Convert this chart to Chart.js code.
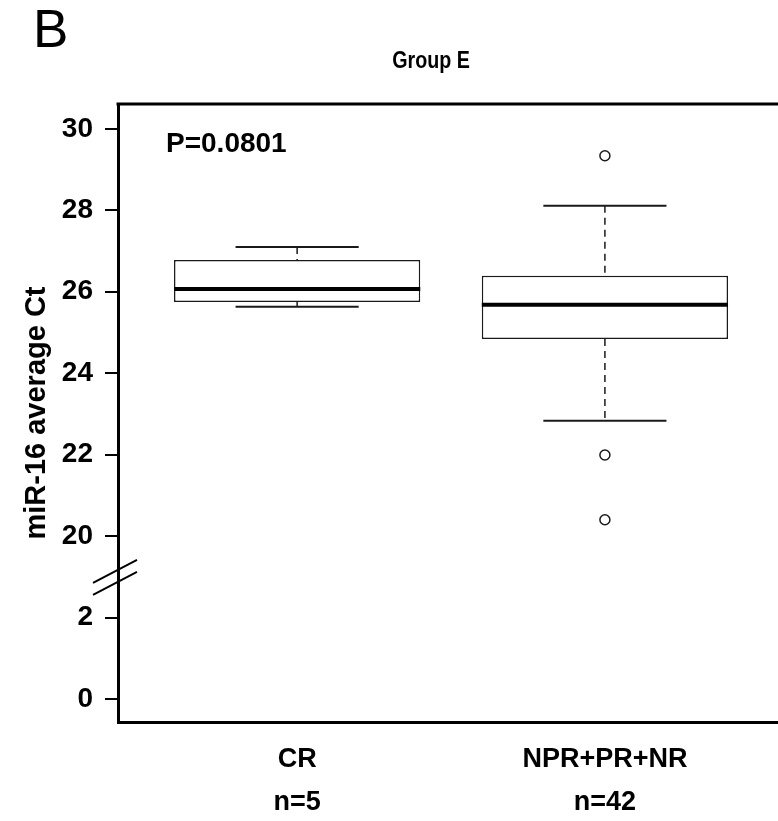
<!DOCTYPE html>
<html>
<head>
<meta charset="utf-8">
<title>Group E</title>
<script src="https://cdn.jsdelivr.net/npm/chart.js@4.4.0/dist/chart.umd.min.js"></script>
<style>
  html, body { margin: 0; padding: 0; background: #fff; overflow: hidden; }
  #chart { display: block; }
</style>
</head>
<body>
<!-- a little wider than the window: the plot frame runs off the right edge, as in the original -->
<canvas id="chart" width="785" height="821"></canvas>
<script>
// miR-16 average Ct, Group E box plot (broken y axis)

const groups = ['CR', 'NPR+PR+NR'];
const groupPos = [1, 2];
const counts = [5, 42];
const whiskerLow = [25.63, 22.83];
const q1 = [25.75, 24.84];
const median = [26.07, 25.68];
const q3 = [26.78, 26.39];
const whiskerHigh = [27.10, 28.11];
const outliers = [[], [29.34, 21.99, 20.40]];
const tickValues = [0, 2, 20, 22, 24, 26, 28, 30];
const titleText = 'Group E';
const panelLetter = 'B';
const pValueText = 'P=0.0801';

// the gap between 2 and 20 is squeezed into one tick step
const breakLow = 2;
const breakHigh = 20;
const breakStep = 2;

function toAxis(v) {
  return v >= breakHigh ? v - breakHigh + breakLow + breakStep : v;
}

const FONT = "'Liberation Sans', Arial, sans-serif";
Chart.defaults.font.family = FONT;
Chart.defaults.color = '#000';

const boxData = groupPos.map((g, i) => ({ x: g, y: [toAxis(q1[i]), toAxis(q3[i])] }));
const outlierData = [];
outliers.forEach((list, i) => {
  list.forEach(v => outlierData.push({ x: groupPos[i], y: toAxis(v) }));
});

function line(ctx, x1, y1, x2, y2) {
  ctx.beginPath();
  ctx.moveTo(x1, y1);
  ctx.lineTo(x2, y2);
  ctx.stroke();
}

// narrow text, drawn squeezed horizontally like the original figure
function narrowText(ctx, text, x, y, font, squeeze, align) {
  ctx.save();
  ctx.translate(x, y);
  ctx.scale(squeeze, 1);
  ctx.font = font;
  ctx.textAlign = align;
  ctx.fillText(text, 0, 0);
  ctx.restore();
}

const boxPlotExtras = {
  id: 'boxPlotExtras',
  afterDatasetsDraw(chart) {
    const ctx = chart.ctx;
    const xs = chart.scales.x;
    const ys = chart.scales.y;
    const boxes = chart.getDatasetMeta(0).data;
    ctx.save();
    ctx.strokeStyle = '#1a1a1a';
    groupPos.forEach((g, i) => {
      const cx = xs.getPixelForValue(g);
      const capL = xs.getPixelForValue(g - 0.2);
      const capR = xs.getPixelForValue(g + 0.2);
      const yHi = ys.getPixelForValue(toAxis(whiskerHigh[i]));
      const yLo = ys.getPixelForValue(toAxis(whiskerLow[i]));
      const yQ3 = ys.getPixelForValue(toAxis(q3[i]));
      const yQ1 = ys.getPixelForValue(toAxis(q1[i]));
      const yMed = ys.getPixelForValue(toAxis(median[i]));

      // dashed whiskers
      ctx.lineWidth = 1.5;
      ctx.setLineDash([7, 5]);
      line(ctx, cx, yHi, cx, yQ3);
      line(ctx, cx, yQ1, cx, yLo);
      ctx.setLineDash([]);

      // whisker caps
      ctx.lineWidth = 2;
      line(ctx, capL, yHi, capR, yHi);
      line(ctx, capL, yLo, capR, yLo);

      // median
      const b = boxes[i];
      ctx.strokeStyle = '#000';
      ctx.lineWidth = 4;
      line(ctx, b.x - b.width / 2, yMed, b.x + b.width / 2, yMed);
      ctx.strokeStyle = '#1a1a1a';
    });
    ctx.restore();
  },
  afterDraw(chart) {
    const ctx = chart.ctx;
    const area = chart.chartArea;
    const ys = chart.scales.y;
    ctx.save();

    // top frame line
    ctx.strokeStyle = '#000';
    ctx.lineWidth = 3;
    line(ctx, area.left - 1.5, area.top, area.right, area.top);

    // axis break marks
    const yb = ys.getPixelForValue(breakLow + breakStep / 2);
    ctx.lineWidth = 2;
    [-6, 6].forEach(off => {
      line(ctx, area.left - 25, yb + off + 12, area.left + 19, yb + off - 11);
    });

    ctx.fillStyle = '#000';
    ctx.textBaseline = 'middle';
    narrowText(ctx, panelLetter, 33, 32, '53px ' + FONT, 1, 'left');
    narrowText(ctx, titleText, 431, 61, 'bold 24px ' + FONT, 0.82, 'center');

    // p value
    ctx.textBaseline = 'alphabetic';
    ctx.textAlign = 'left';
    ctx.font = 'bold 28px ' + FONT;
    ctx.fillText(pValueText, area.left + 48, area.top + 48);
    ctx.restore();
  }
};

new Chart(document.getElementById('chart'), {
  type: 'bar',
  data: {
    datasets: [
      {
        type: 'bar',
        label: 'box',
        data: boxData,
        backgroundColor: '#ffffff',
        borderColor: '#1a1a1a',
        borderWidth: 1.5,
        borderSkipped: false,
        barPercentage: 0.8,
        categoryPercentage: 1.0
      },
      {
        type: 'scatter',
        label: 'outliers',
        data: outlierData,
        pointRadius: 5,
        pointBorderWidth: 1.5,
        pointBackgroundColor: '#ffffff',
        pointBorderColor: '#1a1a1a',
        showLine: false
      }
    ]
  },
  options: {
    responsive: false,
    animation: false,
    devicePixelRatio: 1,
    layout: { padding: { top: 104, left: 0, right: 0, bottom: 0 } },
    plugins: {
      legend: { display: false },
      tooltip: { enabled: false },
      title: { display: false }
    },
    scales: {
      x: {
        type: 'linear',
        min: 0.418,
        max: 2.564,
        offset: false,
        // tick marks hidden, their length only spaces the labels
        grid: { display: false, drawTicks: true, tickLength: 16 },
        border: { display: true, color: '#000', width: 3 },
        afterBuildTicks: axis => {
          axis.ticks = groupPos.map(v => ({ value: v }));
        },
        afterFit: axis => { axis.height = 99; },
        ticks: {
          autoSkip: false,
          maxRotation: 0,
          padding: 0,
          color: '#000',
          font: { size: 27, weight: 'bold', lineHeight: 1.6 },
          callback: (value, index) => [groups[index], 'n=' + counts[index]]
        }
      },
      y: {
        type: 'linear',
        min: -0.565,
        max: 14.61,
        grid: {
          drawOnChartArea: false,
          drawTicks: true,
          tickLength: 13,
          color: '#000',
          lineWidth: 2
        },
        border: { display: true, color: '#000', width: 3 },
        afterBuildTicks: axis => {
          axis.ticks = tickValues.map(v => ({ value: toAxis(v) }));
        },
        afterFit: axis => { axis.width = 118; },
        title: {
          display: true,
          text: 'miR-16 average Ct',
          color: '#000',
          font: { size: 29, weight: 'bold', lineHeight: 1.2 },
          padding: { top: 20, bottom: 0 }
        },
        ticks: {
          autoSkip: false,
          padding: 12,
          color: '#000',
          font: { size: 28, weight: 'bold' },
          callback: (value, index) => String(tickValues[index])
        }
      }
    }
  },
  plugins: [boxPlotExtras]
});
</script>
</body>
</html>
